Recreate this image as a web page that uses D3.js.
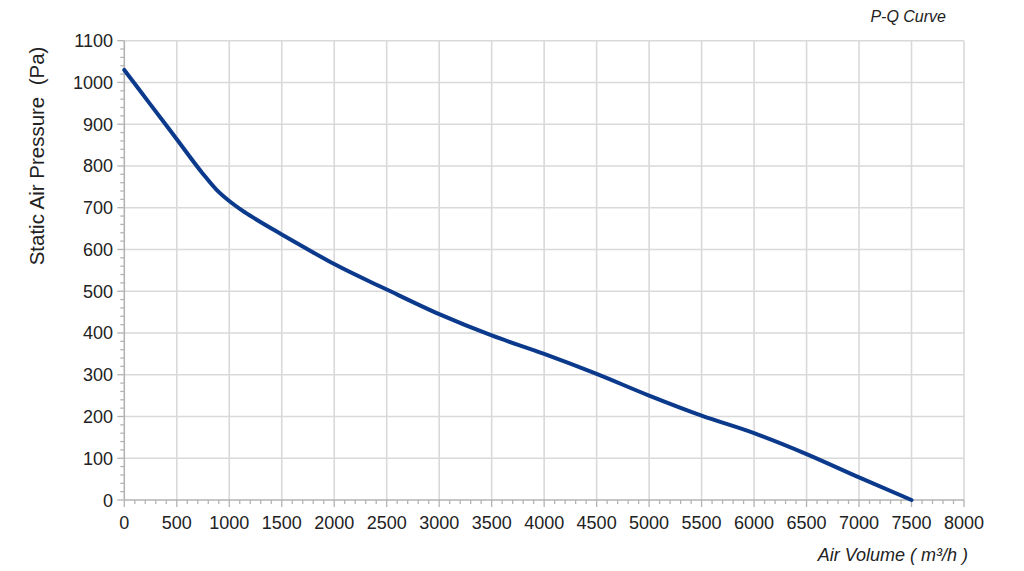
<!DOCTYPE html>
<html><head><meta charset="utf-8">
<script src="https://cdn.jsdelivr.net/npm/d3@7"></script>
<style>
body{margin:0;background:#fff;}
text{font-family:"Liberation Sans",Arial,sans-serif;}
</style></head>
<body><svg id="c" width="1024" height="571"></svg>
<script>
const airVolume = [0,250,500,750,875,1000,1125,1250,1500,1750,2000,2500,3000,3500,4000,4500,5000,5500,6000,6500,7000,7500];
const pressure  = [1030,947,864,781,744,716,693,673,636,600,565,504,445,394,350,302,250,202,160,110,54,0];
const xTicks = [0,500,1000,1500,2000,2500,3000,3500,4000,4500,5000,5500,6000,6500,7000,7500,8000];
const yTicks = [0,100,200,300,400,500,600,700,800,900,1000,1100];

const svg = d3.select("#c");
const x = d3.scaleLinear().domain([0,8000]).range([124.3,964]);
const y = d3.scaleLinear().domain([0,1100]).range([500,40.7]);

// grid
svg.append("g").selectAll("line").data(xTicks.slice(1)).join("line")
  .attr("x1",d=>x(d)).attr("x2",d=>x(d)).attr("y1",y(0)).attr("y2",y(1100))
  .attr("stroke","#d9d9d9").attr("stroke-width",1.6);
svg.append("g").selectAll("line").data(yTicks.slice(1)).join("line")
  .attr("x1",x(0)).attr("x2",x(8000)).attr("y1",d=>y(d)).attr("y2",d=>y(d))
  .attr("stroke","#d9d9d9").attr("stroke-width",1.6);

// minor ticks
const xMinor = d3.range(0,8001,100);
const yMinor = d3.range(0,1101,20);
svg.append("g").selectAll("line").data(xMinor).join("line")
  .attr("x1",d=>x(d)).attr("x2",d=>x(d)).attr("y1",y(0)).attr("y2",d=>y(0)+(d%500===0?7:4))
  .attr("stroke","#b3b3b3").attr("stroke-width",1.3);
svg.append("g").selectAll("line").data(yMinor).join("line")
  .attr("y1",d=>y(d)).attr("y2",d=>y(d)).attr("x1",x(0)).attr("x2",d=>x(0)-(d%100===0?7:4))
  .attr("stroke","#b3b3b3").attr("stroke-width",1.3);

// axis lines
svg.append("line").attr("x1",x(0)).attr("x2",x(8000)).attr("y1",y(0)).attr("y2",y(0))
  .attr("stroke","#b3b3b3").attr("stroke-width",1.6);
svg.append("line").attr("x1",x(0)).attr("x2",x(0)).attr("y1",y(0)).attr("y2",y(1100))
  .attr("stroke","#b3b3b3").attr("stroke-width",1.6);

// tick labels
svg.append("g").selectAll("text").data(xTicks).join("text")
  .attr("x",d=>x(d)).attr("y",529).attr("text-anchor","middle")
  .attr("font-size",18).attr("fill","#222").text(d=>d);
svg.append("g").selectAll("text").data(yTicks).join("text")
  .attr("x",113).attr("y",d=>y(d)+6.5).attr("text-anchor","end")
  .attr("font-size",18).attr("fill","#222").text(d=>d);

// curve
const pts = airVolume.map((v,i)=>[v,pressure[i]]);
svg.append("path").datum(pts)
  .attr("d",d3.line().x(d=>x(d[0])).y(d=>y(d[1])).curve(d3.curveMonotoneX))
  .attr("fill","none").attr("stroke","#0b3a8c").attr("stroke-width",4).attr("stroke-linecap","round");

// labels
svg.append("text").attr("transform","translate(44,156) rotate(-90)")
  .attr("text-anchor","middle").attr("font-size",20.5).attr("fill","#222")
  .attr("xml:space","preserve").text("Static Air Pressure  (Pa)");
svg.append("text").attr("x",968).attr("y",561).attr("text-anchor","end")
  .attr("font-size",18).attr("font-style","italic").attr("fill","#222")
  .text("Air Volume ( m³/h )");
svg.append("text").attr("x",946).attr("y",22).attr("text-anchor","end")
  .attr("font-size",16).attr("font-style","italic").attr("fill","#222")
  .text("P-Q Curve");
</script></body></html>
